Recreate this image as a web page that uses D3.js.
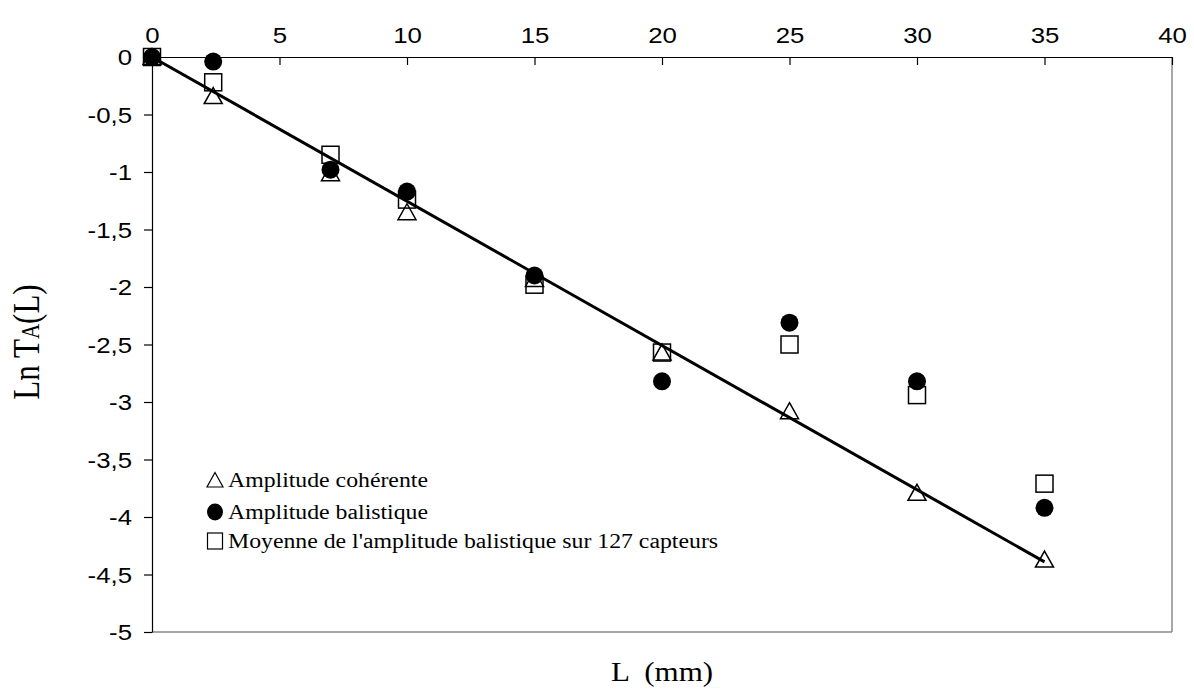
<!DOCTYPE html>
<html><head><meta charset="utf-8">
<script src="https://cdn.jsdelivr.net/npm/d3@7"></script>
<style>body{margin:0;background:#fff}svg{display:block}</style>
</head><body>
<script>
const L = [0, 2.4, 7, 10, 15, 20, 25, 30, 35];
const coherente = [0, -0.34, -1.01, -1.35, -1.93, -2.57, -3.08, -3.79, -4.37];
const balistique = [0, -0.04, -0.98, -1.17, -1.90, -2.82, -2.31, -2.82, -3.92];
const moyenne = [0, -0.22, -0.85, -1.24, -1.98, -2.57, -2.50, -2.94, -3.71];
const fitX = [0, 35];
const fitY = [0, -4.39];
const xTicks = [0, 5, 10, 15, 20, 25, 30, 35, 40];
const yTicks = [0, -0.5, -1, -1.5, -2, -2.5, -3, -3.5, -4, -4.5, -5];
const legendLabels = ["Amplitude cohérente", "Amplitude balistique", "Moyenne de l'amplitude balistique sur 127 capteurs"];

const W = 1194, H = 698;
const m = {left: 152, right: 1172, top: 57, bottom: 632};
const svg = d3.select("body").append("svg").attr("width", W).attr("height", H);
const x = d3.scaleLinear().domain([0, 40]).range([m.left, m.right]);
const y = d3.scaleLinear().domain([-5, 0]).range([m.bottom, m.top]);
const fmt = v => String(v).replace(".", ",");
const SX = 1.2;

svg.append("line").attr("x1", m.right).attr("x2", m.right).attr("y1", m.top).attr("y2", m.bottom).attr("stroke", "#888").attr("stroke-width", 1.5);
svg.append("line").attr("x1", m.left).attr("x2", m.right).attr("y1", m.bottom).attr("y2", m.bottom).attr("stroke", "#888").attr("stroke-width", 1.5);

const xa = svg.append("g").attr("transform", `translate(0,${m.top})`)
  .call(d3.axisBottom(x).tickValues(xTicks).tickSize(8).tickSizeOuter(0).tickFormat(fmt));
xa.select(".domain").attr("stroke", "#000").attr("stroke-width", 1.2);
xa.selectAll(".tick line").attr("stroke", "#000").attr("stroke-width", 1.2);
xa.selectAll(".tick text").attr("y", -29).attr("dy", "0.71em").attr("transform", `scale(${SX},1)`)
  .attr("font-family", "Liberation Sans, Arial, sans-serif").attr("font-size", 21.5).attr("fill", "#000");

const ya = svg.append("g").attr("transform", `translate(${m.left},0)`)
  .call(d3.axisLeft(y).tickValues(yTicks).tickSize(8).tickSizeOuter(0).tickFormat(fmt));
ya.select(".domain").attr("stroke", "#000").attr("stroke-width", 1.2);
ya.selectAll(".tick line").attr("stroke", "#000").attr("stroke-width", 1.2);
ya.selectAll(".tick text").attr("x", -20 / SX).attr("dy", "0.36em").attr("transform", `scale(${SX},1)`)
  .attr("font-family", "Liberation Sans, Arial, sans-serif").attr("font-size", 21.5).attr("fill", "#000");

svg.append("line").attr("x1", x(fitX[0])).attr("y1", y(fitY[0])).attr("x2", x(fitX[1])).attr("y2", y(fitY[1]))
  .attr("stroke", "#000").attr("stroke-width", 3);

const g = svg.append("g");
g.selectAll(".sq").data(L).enter().append("rect")
  .attr("x", d => x(d) - 8.5).attr("y", (d, i) => y(moyenne[i]) - 8.5)
  .attr("width", 17).attr("height", 17).attr("fill", "none").attr("stroke", "#000").attr("stroke-width", 1.5);
g.selectAll(".tr").data(L).enter().append("path")
  .attr("d", "M0,-8.5L9,7.5L-9,7.5Z")
  .attr("transform", (d, i) => `translate(${x(d)},${y(coherente[i])})`)
  .attr("fill", "none").attr("stroke", "#000").attr("stroke-width", 1.5);
g.selectAll(".ci").data(L).enter().append("circle")
  .attr("cx", d => x(d)).attr("cy", (d, i) => y(balistique[i])).attr("r", 9).attr("fill", "#000");

const lg = svg.append("g").attr("font-family", "Liberation Serif, Times New Roman, serif").attr("font-size", 20.5);
const ly = [480, 512, 541];
legendLabels.forEach((t, i) => {
  lg.append("text").attr("transform", `translate(228,${ly[i]}) scale(1.16,1)`).attr("dy", "0.35em").text(t);
});
lg.append("path").attr("d", `M215,${ly[0]-7.5}L223,${ly[0]+7}L207,${ly[0]+7}Z`).attr("fill", "none").attr("stroke", "#000").attr("stroke-width", 1.2);
lg.append("ellipse").attr("cx", 215).attr("cy", ly[1]).attr("rx", 8).attr("ry", 8.5).attr("fill", "#000");
lg.append("rect").attr("x", 207.5).attr("y", ly[2] - 8).attr("width", 15).attr("height", 16).attr("fill", "none").attr("stroke", "#000").attr("stroke-width", 1.2);

svg.append("text").attr("transform", "translate(662,681) scale(1.15,1)").attr("text-anchor", "middle")
  .attr("font-family", "Liberation Serif, Times New Roman, serif").attr("font-size", 27).attr("xml:space", "preserve")
  .text("L  (mm)");
const yt = svg.append("text").attr("transform", "translate(39,342) rotate(-90) scale(1,1.2)").attr("text-anchor", "middle")
  .attr("font-family", "Liberation Serif, Times New Roman, serif").attr("font-size", 31);
yt.append("tspan").text("Ln T");
yt.append("tspan").attr("font-size", 21).text("A");
yt.append("tspan").text("(L)");
</script>
</body></html>
